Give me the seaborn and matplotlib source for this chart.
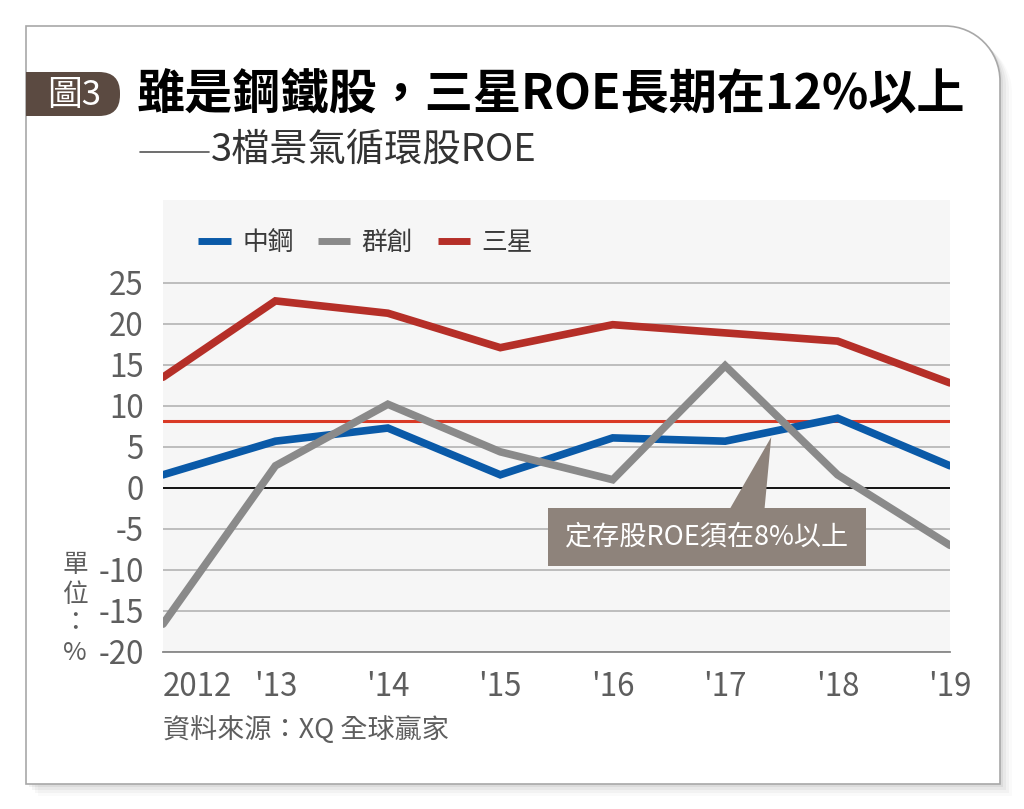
"""
Recreate the ROE chart of three cyclical stocks (2012-2019).
"""

import numpy as np
import pandas as pd
import matplotlib
matplotlib.use("Agg")
import matplotlib.pyplot as plt
import seaborn as sns
from matplotlib.path import Path
from matplotlib.lines import Line2D
from matplotlib.patches import PathPatch, Polygon, Rectangle, FancyBboxPatch

# Data
years = ["2012", "'13", "'14", "'15", "'16", "'17", "'18", "'19"]
csc_roe = [1.6, 5.7, 7.3, 1.6, 6.1, 5.7, 8.5, 2.7]          # 中鋼
innolux_roe = [-16.6, 2.7, 10.2, 4.4, 1.0, 14.9, 1.6, -7.0]  # 群創
samsung_roe = [13.5, 22.8, 21.3, 17.1, 19.9, 18.9, 17.9, 12.8]  # 三星
series_names = ["中鋼", "群創", "三星"]
series_colors = ["#0a5aa8", "#8a8a8a", "#b52f28"]
threshold = 8.2
y_ticks = [25, 20, 15, 10, 5, 0, -5, -10, -15, -20]

title_text = "雖是鋼鐵股，三星ROE長期在12%以上"
subtitle_text = "3檔景氣循環股ROE"
badge_text = "圖3"
note_text = "定存股ROE須在8%以上"
unit_text = "單\n位\n：\n%"
source_text = "資料來源：XQ 全球贏家"

sns.set_style("white")
plt.rcParams['font.family'] = ['Noto Sans CJK TC', 'DejaVu Sans']

W, H = 1024, 809
fig = plt.figure(figsize=(W / 100, H / 100), dpi=100)
fig.patch.set_facecolor("white")


def px(x, y):
    """pixel coords (top-left origin) -> inches for dpi_scale_trans"""
    return (x / 100.0, (H - y) / 100.0)


# card with rounded top-right corner
def card_path(l, t, r, b, rad):
    k = 0.5523 * rad
    verts = [px(l, b), px(l, t), px(r - rad, t),
             px(r - rad + k, t), px(r, t + rad - k), px(r, t + rad),
             px(r, b), px(l, b)]
    codes = [Path.MOVETO, Path.LINETO, Path.LINETO,
             Path.CURVE4, Path.CURVE4, Path.CURVE4,
             Path.LINETO, Path.CLOSEPOLY]
    return Path(verts, codes)


for i, a in enumerate([0.05, 0.04, 0.03, 0.02]):
    off = 3 + i * 3
    sh = PathPatch(card_path(26 + off, 26 + off, 1000 + off, 784 + off, 55),
                   transform=fig.dpi_scale_trans, facecolor="black",
                   edgecolor="none", alpha=a, zorder=0)
    fig.patches.append(sh)
card = PathPatch(card_path(26, 26, 1000, 784, 55), transform=fig.dpi_scale_trans,
                 facecolor="white", edgecolor="#a8a8a8", linewidth=1.2, zorder=1)
fig.patches.append(card)

# badge
bx0, by0 = px(26, 116)
badge = FancyBboxPatch((bx0, by0), 0.94, 0.44,
                       boxstyle="round,pad=0,rounding_size=0.21",
                       transform=fig.dpi_scale_trans, facecolor="#5b4a41",
                       edgecolor="none", zorder=2)
fig.patches.append(badge)
fig.patches.append(Rectangle((bx0, by0), 0.3, 0.44, transform=fig.dpi_scale_trans,
                             facecolor="#5b4a41", edgecolor="none", zorder=2))
fig.text(74 / W, 1 - 95 / H, badge_text, color="white", fontsize=25,
         ha="center", va="center", zorder=3)

fig.text(137 / W, 1 - 94 / H, title_text, color="black", fontsize=34.7,
         fontweight="bold", ha="left", va="center", zorder=3)
fig.lines.append(Line2D([140 / W, 209 / W], [1 - 152 / H, 1 - 152 / H],
                        transform=fig.transFigure, color="#555555",
                        linewidth=1.2))
fig.text(211 / W, 1 - 150 / H, subtitle_text, color="#333333", fontsize=27.5,
         ha="left", va="center", zorder=3)

# plot area
ax = fig.add_axes([163 / W, 1 - 652 / H, (950 - 163) / W, (652 - 200) / H])
ax.set_zorder(2)
ax.set_facecolor("#f6f6f6")

df = pd.DataFrame({
    "year": list(range(len(years))) * 3,
    "roe": csc_roe + innolux_roe + samsung_roe,
    "stock": [n for n in series_names for _ in years],
})

for y in y_ticks:
    if y != 0:
        ax.axhline(y, color="#b9b9b9", linewidth=1.3, zorder=1)
ax.axhline(0, color="black", linewidth=1.3, zorder=1)
ax.axhline(threshold, color="#d93a26", linewidth=2.2, zorder=2)

sns.lineplot(data=df, x="year", y="roe", hue="stock", hue_order=series_names,
             palette=series_colors, linewidth=5.5, ax=ax, zorder=3,
             solid_capstyle="round", solid_joinstyle="miter")

ax.set_xlim(0, len(years) - 1)
ax.set_ylim(-20, 35.1)
ax.set_xticks(range(len(years)))
ax.set_xticklabels(years)
ax.set_yticks(y_ticks)
ax.set_yticklabels([str(v) for v in y_ticks])
ax.set_xlabel("")
ax.set_ylabel("")
ax.tick_params(axis="x", direction="in", length=12, width=1.3, color="#222222",
               pad=14, labelsize=22.5, labelcolor="#5e5e5e")
ax.tick_params(axis="y", length=0, pad=14, labelsize=22.5, labelcolor="#5e5e5e")
ax.get_xticklabels()[0].set_horizontalalignment("left")
for s in ["left", "top", "right"]:
    ax.spines[s].set_visible(False)
ax.spines["bottom"].set_color("#888888")
ax.spines["bottom"].set_linewidth(1.3)
ax.spines["bottom"].set_zorder(4)

leg = ax.legend(loc="center left", bbox_to_anchor=(0.045, 0.905), ncol=3,
                frameon=False, fontsize=18.5, handlelength=1.25,
                handletextpad=0.45, columnspacing=0.95, borderaxespad=0,
                borderpad=0)
for h in leg.get_lines():
    h.set_linewidth(5)
    h.set_solid_capstyle("butt")
for t in leg.get_texts():
    t.set_color("#3a3a3a")

# callout box for the 8% line
note_color = "#8e837b"
ax.add_patch(Polygon([(5.04, -2.6), (5.35, -2.6), (5.41, 6.2)], closed=True,
                     facecolor=note_color, edgecolor="none", zorder=5))
ax.add_patch(Rectangle((3.42, -9.52), 2.83, 7.07, facecolor=note_color,
                       edgecolor="none", zorder=5))
ax.text(4.835, -5.95, note_text, color="white", fontsize=19.5, ha="center",
        va="center", zorder=6)

fig.text(75 / W, 1 - 609 / H, unit_text, color="#5e5e5e", fontsize=18.5,
         ha="center", va="center", linespacing=1.15)
fig.text(163 / W, 1 - 730 / H, source_text, color="#5e5e5e", fontsize=19.5,
         ha="left", va="center")

fig.savefig("out.png", dpi=100, facecolor="white")
